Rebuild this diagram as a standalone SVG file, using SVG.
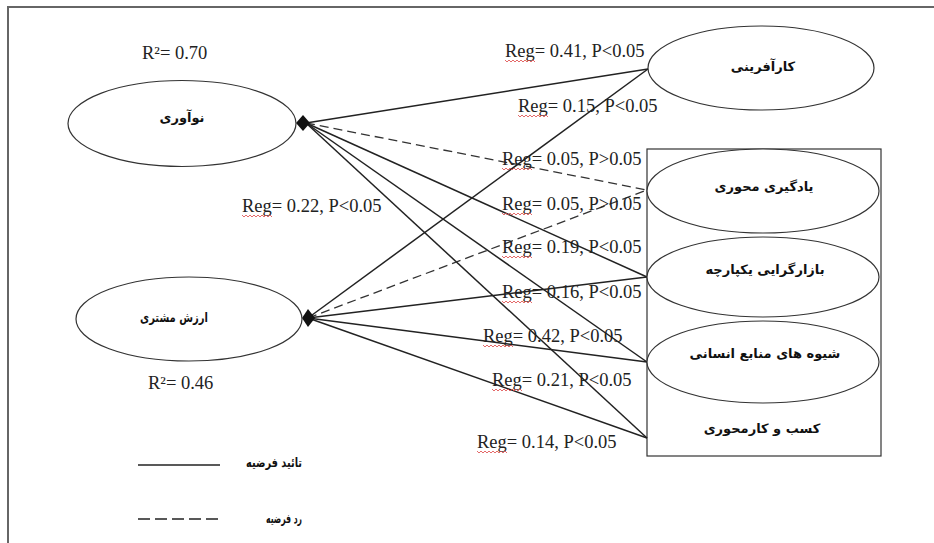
<svg xmlns="http://www.w3.org/2000/svg" width="934" height="543" viewBox="0 0 934 543">
<defs>
<style>
.frame{fill:none;stroke:#666;stroke-width:2}
.node{fill:#fff;stroke:#333;stroke-width:1.2}
.box{fill:#fff;stroke:#333;stroke-width:1.2}
.fa{font-family:"DejaVu Sans",sans-serif;font-weight:bold;font-size:13px;fill:#111;text-anchor:middle}
.lbl{font-family:"Liberation Serif","Times New Roman",serif;font-size:18.5px;fill:#222}
.solid{stroke:#222;stroke-width:1.5;fill:none}
.dash{stroke:#333;stroke-width:1.3;fill:none;stroke-dasharray:9 5}
.head{fill:#111}
.sq{fill:none;stroke:#d44;stroke-width:0.8}
</style>
<path id="squig" d="M0,0 l2,2 l2,-2 l2,2 l2,-2 l2,2 l2,-2 l2,2 l2,-2 l2,2 l2,-2 l2,2 l2,-2 l2,2 l2,-2 l2,2"/>
</defs>
<rect width="934" height="543" fill="#fff"/>
<path class="frame" d="M8,543 V7 H934"/>
<rect id="group-box" class="box" x="647" y="149" width="234" height="307"/>
<g id="connectors">
<line class="solid" x1="306" y1="123" x2="648" y2="69"/>
<line class="dash" x1="306" y1="123" x2="647" y2="190"/>
<line class="solid" x1="306" y1="123" x2="647" y2="277"/>
<line class="solid" x1="306" y1="123" x2="647" y2="362"/>
<line class="solid" x1="306" y1="123" x2="647" y2="438"/>
<line class="solid" x1="308" y1="318" x2="648" y2="69"/>
<line class="dash" x1="308" y1="318" x2="647" y2="190"/>
<line class="solid" x1="308" y1="318" x2="647" y2="277"/>
<line class="solid" x1="308" y1="318" x2="647" y2="362"/>
<line class="solid" x1="308" y1="318" x2="647" y2="438"/>
<polygon class="head" points="296,123 303,115 310,123 303,131"/>
<polygon class="head" points="302,318 308,309 315,318 308,327"/>
</g>
<g id="node-innovation">
<ellipse class="node" cx="182" cy="123.5" rx="114" ry="43"/>
<text class="fa" x="182" y="122">نوآوری</text>
</g>
<g id="node-customer-value">
<ellipse class="node" cx="189" cy="319" rx="113" ry="42"/>
<text class="fa" x="174" y="322" textLength="68" lengthAdjust="spacingAndGlyphs">ارزش مشتری</text>
</g>
<g id="node-entrepreneurship">
<ellipse class="node" cx="761" cy="68" rx="113" ry="42"/>
<text class="fa" x="763" y="71">کارآفرینی</text>
</g>
<g id="node-learning">
<ellipse class="node" cx="763" cy="191" rx="116" ry="42"/>
<text class="fa" x="764" y="191">یادگیری محوری</text>
</g>
<g id="node-marketing">
<ellipse class="node" cx="763" cy="277" rx="116" ry="40"/>
<text class="fa" x="765" y="274">بازارگرایی یکپارچه</text>
</g>
<g id="node-hr">
<ellipse class="node" cx="763" cy="362" rx="116" ry="41"/>
<text class="fa" x="765" y="358">شیوه های منابع انسانی</text>
</g>
<g id="node-business">
<text class="fa" x="762" y="433">کسب و کارمحوری</text>
</g>
<g id="labels">
<text class="lbl" x="142" y="59">R²= 0.70</text>
<text class="lbl" x="148" y="389">R²= 0.46</text>
<text class="lbl" x="505" y="57">Reg= 0.41, P&lt;0.05</text>
<text class="lbl" x="518" y="112">Reg= 0.15, P&lt;0.05</text>
<text class="lbl" x="502" y="165">Reg= 0.05, P&gt;0.05</text>
<text class="lbl" x="242" y="212">Reg= 0.22, P&lt;0.05</text>
<text class="lbl" x="502" y="210">Reg= 0.05, P&gt;0.05</text>
<text class="lbl" x="502" y="253">Reg= 0.19, P&lt;0.05</text>
<text class="lbl" x="502" y="298">Reg= 0.16, P&lt;0.05</text>
<text class="lbl" x="483" y="342">Reg= 0.42, P&lt;0.05</text>
<text class="lbl" x="492" y="386">Reg= 0.21, P&lt;0.05</text>
<text class="lbl" x="477" y="448">Reg= 0.14, P&lt;0.05</text>
<use class="sq" href="#squig" x="505" y="60"/>
<use class="sq" href="#squig" x="518" y="115"/>
<use class="sq" href="#squig" x="502" y="168"/>
<use class="sq" href="#squig" x="242" y="215"/>
<use class="sq" href="#squig" x="502" y="213"/>
<use class="sq" href="#squig" x="502" y="256"/>
<use class="sq" href="#squig" x="502" y="301"/>
<use class="sq" href="#squig" x="483" y="345"/>
<use class="sq" href="#squig" x="492" y="389"/>
<use class="sq" href="#squig" x="477" y="451"/>
</g>
<g id="legend">
<line class="solid" x1="138" y1="465" x2="220" y2="465" stroke-width="1.3"/>
<line x1="138" y1="519" x2="220" y2="519" stroke="#222" stroke-width="1.3" stroke-dasharray="12 5"/>
<text class="fa" style="text-anchor:end" x="302" y="467" textLength="56" lengthAdjust="spacingAndGlyphs">تائید فرضیه</text>
<text class="fa" style="text-anchor:end" x="302" y="523" textLength="36" lengthAdjust="spacingAndGlyphs">رد فرضیه</text>
</g>
</svg>
